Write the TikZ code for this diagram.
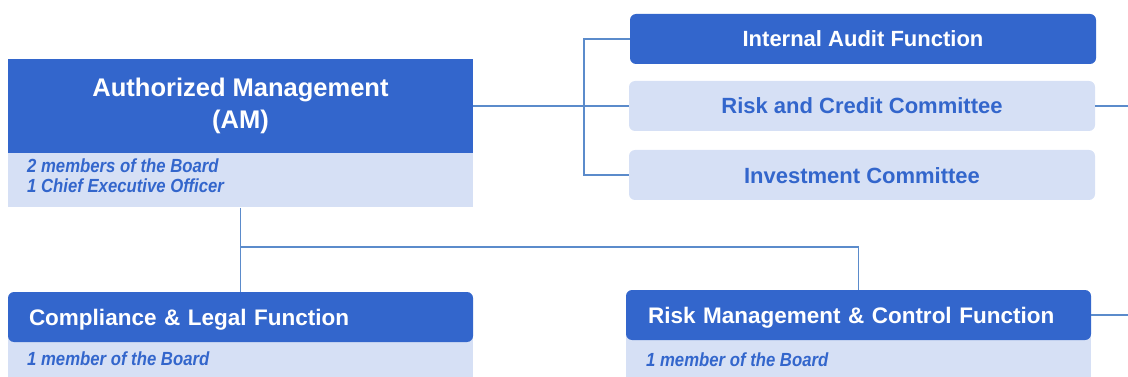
\documentclass[tikz,border=0pt]{standalone}
\usepackage{fontspec}
\setmainfont{Liberation Sans}
\newfontfamily\notefont[FakeStretch=0.88]{Liberation Sans}
\definecolor{3366cc}{HTML}{3366CC}
\definecolor{d6e0f5}{HTML}{D6E0F5}
\definecolor{5b8bcb}{HTML}{5B8BCB}

\begin{document}
\begin{tikzpicture}[x=1pt,y=-1pt,
    head/.style={fill=3366cc,text=white,inner sep=0,minimum width=465pt,minimum height=50pt,text height=16pt,text depth=0pt,font=\bfseries\fontsize{22}{26}\selectfont},
    soft/.style={fill=d6e0f5,text=3366cc,inner sep=0,minimum width=466pt,minimum height=50pt,rounded corners=6pt,text height=16pt,text depth=0pt,font=\bfseries\fontsize{22}{26}\selectfont},
    func/.style={head,rounded corners=6pt,align=left,text height=17pt,text depth=0pt,font=\bfseries\fontsize{22.5}{26}\selectfont},
    note/.style={text=3366cc,inner sep=0,align=left,font=\notefont\bfseries\itshape\fontsize{19}{20}\selectfont},
    link/.style={draw=5b8bcb,line width=1.5pt}]
\useasboundingbox(0,0)rectangle(1128,377);
% top block
\node[fill=3366cc,text=white,inner sep=0,minimum width=465pt,minimum height=94pt,align=center,font=\bfseries\fontsize{25.5}{32}\selectfont](am)at(240.5,106){Authorized Management\\(AM)};
\node[fill=d6e0f5,inner sep=0,minimum width=465pt,minimum height=54pt,anchor=north](amsub)at(am.south){};
\node[note,anchor=west](amnote)at(27,176){2 members of the Board\\1 Chief Executive Officer};
% committees
\node[head,rounded corners=6pt,minimum width=466pt](iaf)at(863,39){Internal Audit Function};
\node[soft](rcc)at(862,106){Risk and Credit Committee};
\node[soft](inv)at(862,175){Investment Committee};
% functions
\node[fill=d6e0f5,inner sep=0,minimum width=465pt,minimum height=47pt,anchor=north west](clfsub)at(8,330){};
\node[func,text width=423pt,inner xsep=21pt](clf)at(240.5,317){Compliance \& Legal Function};
\node[note,anchor=west](clfnote)at(27,359){1 member of the Board};
\node[fill=d6e0f5,inner sep=0,minimum width=465pt,minimum height=47pt,anchor=north west](rmcsub)at(626,330){};
\node[func,text width=421pt,inner xsep=22pt](rmc)at(858.5,315){Risk Management \& Control Function};
\node[note,anchor=west](rmcnote)at(646,360){1 member of the Board};
% connectors
\coordinate(rccout)at(1128,106);
\coordinate(rmcout)at(1128,315);
\coordinate(split)at(240.5,247);
\draw[link](am.east)--(rcc.west);
\draw[link](iaf.west)--++(-46,0)|-(inv.west);
\draw[link](rcc.east)--(rccout);
\draw[link](amsub.south)--(clf.north);
\draw[link](split)-|(rmc.north);
\draw[link](rmc.east)--(rmcout);
\end{tikzpicture}
\end{document}
